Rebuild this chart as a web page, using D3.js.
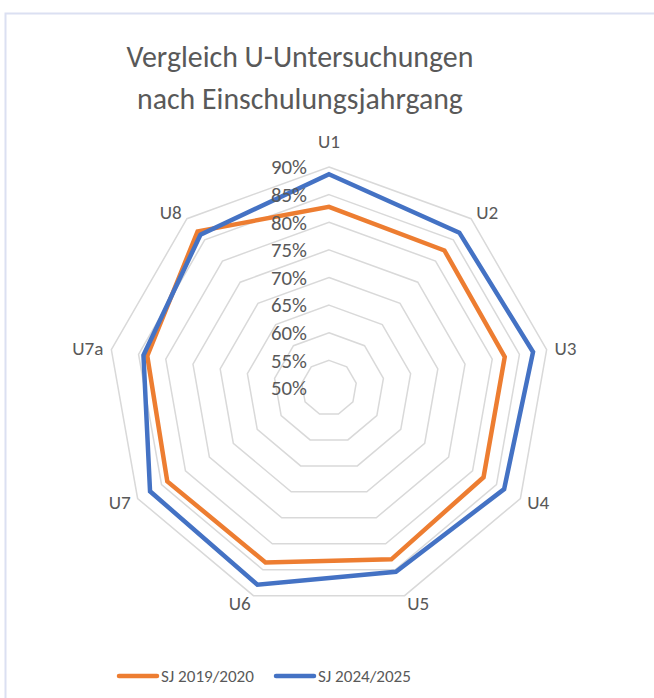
<!DOCTYPE html>
<html>
<head>
<meta charset="utf-8">
<script src="https://cdn.jsdelivr.net/npm/d3@7.9.0/dist/d3.min.js"></script>
<style>
  body { margin: 0; background: #fff; }
  svg { display: block; font-family: Carlito, "Open Sans", "Noto Sans", sans-serif; }
</style>
</head>
<body>
<div id="chart"></div>
<script>
const categories = ['U1', 'U2', 'U3', 'U4', 'U5', 'U6', 'U7', 'U7a', 'U8'];
const sj2019 = [82.8, 82.5, 82.3, 82.3, 83.0, 83.6, 83.8, 83.4, 87.0];
const sj2024 = [88.7, 86.7, 87.5, 86.6, 85.4, 87.9, 87.4, 84.1, 86.2];
const ticks = [50, 55, 60, 65, 70, 75, 80, 85, 90];
const seriesNames = ['SJ 2019/2020', 'SJ 2024/2025'];
const seriesColors = ['#ED7D31', '#4472C4'];

const width = 654, height = 698;
const cx = 329, cy = 388, radius = 221;
const textColor = '#595959';

const svg = d3.select('#chart').append('svg')
  .attr('width', width).attr('height', height);

// chart area border
svg.append('rect')
  .attr('x', 5.5).attr('y', 13.5)
  .attr('width', 700).attr('height', 700)
  .attr('fill', 'none')
  .attr('stroke', '#dbe0f2')
  .attr('stroke-width', 2);

// font size that makes a sample string a given width
function fitSize(text, target) {
  const t = svg.append('text').attr('font-size', 20).text(text);
  const w = t.node().getComputedTextLength();
  t.remove();
  return +(20 * target / w).toFixed(2);
}

const title = svg.append('g').attr('fill', textColor).attr('text-anchor', 'middle');
title.append('text').attr('x', 300).attr('y', 67)
  .attr('font-size', fitSize('Vergleich U-Untersuchungen', 347))
  .text('Vergleich U-Untersuchungen');
title.append('text').attr('x', 300).attr('y', 109)
  .attr('font-size', fitSize('nach Einschulungsjahrgang', 326))
  .text('nach Einschulungsjahrgang');

const r = d3.scaleLinear().domain([50, 90]).range([0, radius]);
const angle = d3.scalePoint().domain(categories).range([0, 2 * Math.PI * (1 - 1 / categories.length)]);

const g = svg.append('g').attr('transform', `translate(${cx},${cy})`);

const radial = d3.lineRadial()
  .angle(d => angle(d.cat))
  .radius(d => r(d.v))
  .curve(d3.curveLinearClosed);

// grid rings
g.append('g').selectAll('path')
  .data(ticks.filter(t => t > 50))
  .join('path')
  .attr('d', t => radial(categories.map(c => ({ cat: c, v: t }))))
  .attr('fill', 'none')
  .attr('stroke', '#d9d9d9')
  .attr('stroke-width', 1.5);

// series
const series = [sj2019, sj2024];
g.append('g').selectAll('path')
  .data(series)
  .join('path')
  .attr('d', vals => radial(categories.map((c, i) => ({ cat: c, v: vals[i] }))))
  .attr('fill', 'none')
  .attr('stroke', (d, i) => seriesColors[i])
  .attr('stroke-width', 4.5)
  .attr('stroke-linejoin', 'miter');

// tick labels
const tickSize = fitSize('90%', 36);
const tl = g.append('g').attr('fill', textColor).attr('text-anchor', 'end');
tl.selectAll('text')
  .data(ticks)
  .join('text')
  .attr('x', -22)
  .attr('y', t => -r(t))
  .attr('dy', '0.35em')
  .attr('font-size', tickSize)
  .text(t => t + '%');

// category labels
const catSize = fitSize('U3', 22);
const cl = g.append('g').attr('fill', textColor);
cl.selectAll('text')
  .data(categories)
  .join('text')
  .attr('font-size', catSize)
  .each(function (c) {
    const a = angle(c);
    const s = Math.sin(a), co = Math.cos(a);
    const rr = radius + 8;
    const t = d3.select(this);
    t.attr('x', s * rr).attr('y', -co * rr)
      .attr('text-anchor', Math.abs(s) < 0.01 ? 'middle' : (s > 0 ? 'start' : 'end'))
      .attr('dy', Math.abs(s) < 0.01 ? (co > 0 ? '-0.55em' : '1em') : '0.35em')
      .text(c);
  });

// legend
const legend = svg.append('g');
const lx = [119, 276];
const legSize = fitSize('SJ 2019/2020', 93);
seriesNames.forEach((name, i) => {
  legend.append('line')
    .attr('x1', lx[i]).attr('x2', lx[i] + 38)
    .attr('y1', 676).attr('y2', 676)
    .attr('stroke', seriesColors[i])
    .attr('stroke-width', 4.5)
    .attr('stroke-linecap', 'round');
  legend.append('text')
    .attr('x', lx[i] + 42).attr('y', 676)
    .attr('dy', '0.35em')
    .attr('fill', textColor)
    .attr('font-size', legSize)
    .text(name);
});
</script>
</body>
</html>
